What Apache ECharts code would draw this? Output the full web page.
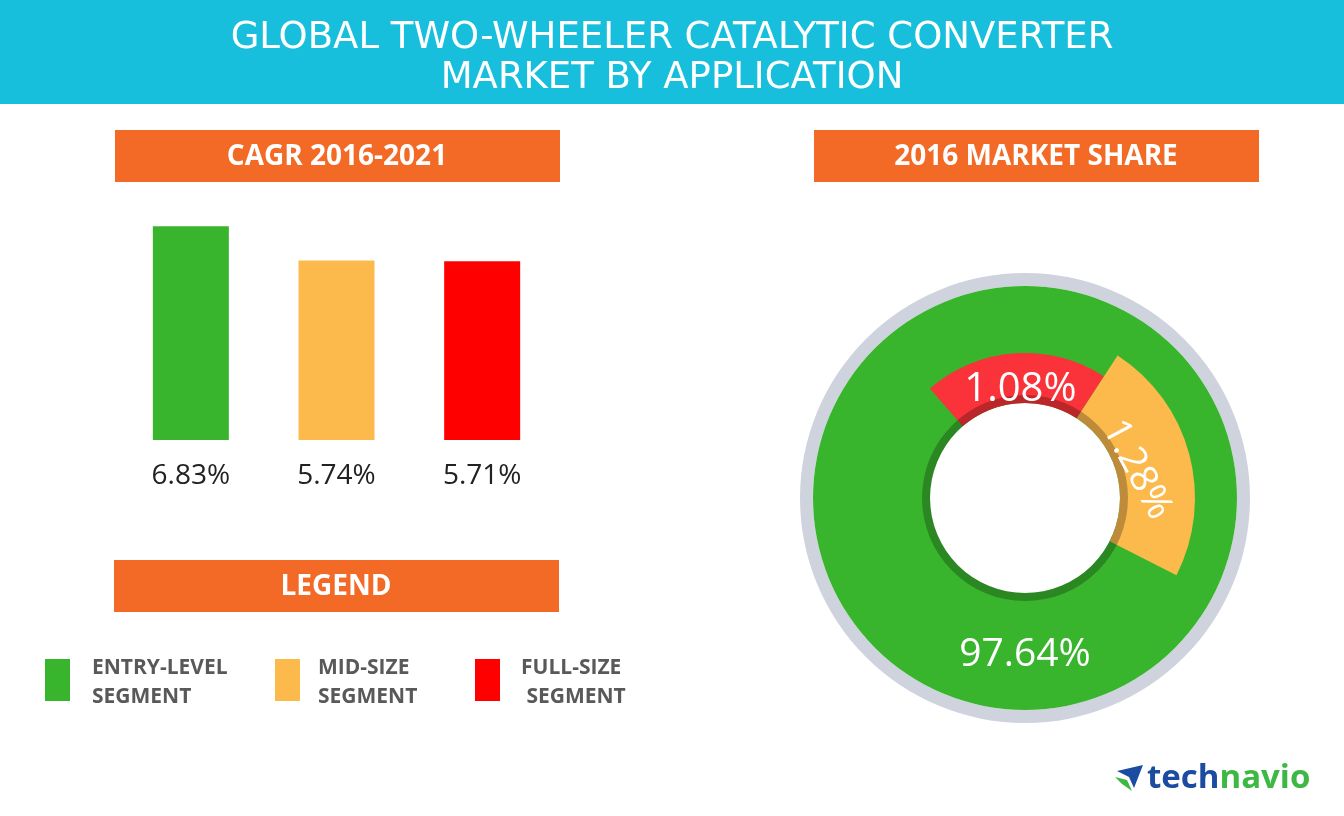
<!DOCTYPE html>
<html><head><meta charset="utf-8">
<script src="https://cdn.jsdelivr.net/npm/echarts@6/dist/echarts.min.js"></script>
<style>html,body{margin:0;padding:0;background:#fff}#c{width:1344px;height:816px}</style>
</head><body><div id="c"></div>
<script>
const titleLines = ['GLOBAL TWO-WHEELER CATALYTIC CONVERTER', 'MARKET BY APPLICATION'];
const panelTitles = ['CAGR 2016-2021', '2016 MARKET SHARE', 'LEGEND'];
const segments = ['Entry-level segment', 'Mid-size segment', 'Full-size segment'];
const legendLines = [['ENTRY-LEVEL', 'SEGMENT'], ['MID-SIZE', 'SEGMENT'], ['FULL-SIZE', ' SEGMENT']];
const cagrValues = [6.83, 5.74, 5.71];
const shareValues = [97.64, 1.28, 1.08];
// arc each slice is drawn with in the infographic (degrees)
const shareArcDegrees = [202, 84, 74];
const barColors = ['#39B52D', '#FDBA4C', '#FF0000'];
const donutColors = ['#39B52D', '#FDBA4C', '#F93339'];

const fmt = v => v.toFixed(2) + '%';
const C = [1025, 498];
const order = [2, 1, 0]; // clockwise from the top-left: full, mid, entry

function ring(radius, colorFn, labelFn, layout) {
  return {
    type: 'pie', silent: true, center: C, radius: radius, startAngle: 131, clockwise: true,
    avoidLabelOverlap: false, labelLine: { show: false }, animation: false,
    labelLayout: layout || {},
    data: order.map(i => ({
      name: segments[i], value: shareArcDegrees[i],
      itemStyle: { color: colorFn(i) },
      label: labelFn ? labelFn(i) : { show: false }
    }))
  };
}
function disk(radius, color) {
  return { type: 'pie', silent: true, center: C, radius: radius, animation: false,
    label: { show: false }, labelLine: { show: false },
    data: [{ name: 'all', value: shareValues.reduce((a, b) => a + b, 0), itemStyle: { color: color } }] };
}

const chart = echarts.init(document.getElementById('c'));
const graphic = [];
graphic.push({ type: 'rect', shape: { x: 0, y: 0, width: 1344, height: 104 }, style: { fill: '#17BFDD' } });
titleLines.forEach((t, i) => graphic.push({
  type: 'text', x: 672, y: 38 + i * 40,
  style: { text: t, fill: '#fff', font: '37px "DejaVu Sans"', textAlign: 'center', textVerticalAlign: 'middle' }
}));
const boxes = [[115, 130], [814, 130], [114, 560]];
boxes.forEach((b, i) => {
  graphic.push({ type: 'rect', shape: { x: b[0], y: b[1], width: 445, height: 52 }, style: { fill: '#F26A25' } });
  graphic.push({ type: 'text', x: b[0] + 222, y: b[1] + 27,
    style: { text: panelTitles[i], fill: '#fff', font: 'bold 28px "Open Sans"', textAlign: 'center', textVerticalAlign: 'middle' } });
});
const legX = [[45, 92], [275, 318], [475, 521]];
legendLines.forEach((ls, i) => {
  graphic.push({ type: 'rect', shape: { x: legX[i][0], y: 659, width: 25, height: 42 }, style: { fill: barColors[i] } });
  ls.forEach((l, j) => graphic.push({ type: 'text', x: legX[i][1], y: 668 + j * 29,
    style: { text: l, fill: '#595959', font: 'bold 21px "Open Sans"', textAlign: 'left', textVerticalAlign: 'middle' } }));
});
graphic.push({ type: 'text', x: C[0], y: 655, z: 100,
  style: { text: fmt(shareValues[0]), fill: '#fff', font: '39px "Open Sans"', textAlign: 'center', textVerticalAlign: 'middle' } });
// logo
graphic.push({ type: 'polygon', shape: { points: [[1117, 771], [1143, 765], [1134, 788], [1129, 777]] }, style: { fill: '#1B4CA1' } });
graphic.push({ type: 'polygon', shape: { points: [[1115, 777], [1127, 780], [1132, 791], [1122, 784]] }, style: { fill: '#3DB843' } });
graphic.push({ type: 'text', x: 1147, y: 779,
  style: { text: '{a|tech}{b|navio}', textVerticalAlign: 'middle', textAlign: 'left',
    rich: { a: { fill: '#1B4CA1', font: 'bold 33px "Open Sans"' }, b: { fill: '#3DB843', font: 'bold 33px "Open Sans"' } } } });

chart.setOption({
  backgroundColor: '#fff',
  animation: false,
  grid: { left: 118, width: 437, top: 221, height: 219 },
  xAxis: { type: 'category', data: segments, show: false },
  yAxis: { type: 'value', min: 0, max: 7, show: false },
  series: [
    {
      type: 'bar', barWidth: 76, silent: true,
      data: cagrValues.map((v, i) => ({ value: v, itemStyle: { color: barColors[i] } })),
      label: { show: true, position: 'bottom', distance: 22, formatter: p => fmt(cagrValues[p.dataIndex]),
        color: '#222', fontSize: 28, fontFamily: 'Open Sans' }
    },
    disk(['212', '225'], '#CFD3DD'),
    disk(['95', '212'], donutColors[0]),
    ring(['95', '145'], i => i === 2 ? donutColors[2] : 'rgba(0,0,0,0)',
      i => i === 2 ? { show: true, position: 'inside', formatter: fmt(shareValues[2]), color: '#fff', fontSize: 40, fontFamily: 'Open Sans' } : { show: false },
      { dy: 14, dx: 4 }),
    ring(['95', '170'], i => i === 1 ? donutColors[1] : 'rgba(0,0,0,0)',
      i => i === 1 ? { show: true, position: 'inside', rotate: -62, formatter: fmt(shareValues[1]), color: '#fff', fontSize: 38, fontFamily: 'Open Sans' } : { show: false },
      { dx: -3, dy: 20 }),
    disk(['95', '103'], 'rgba(0,0,0,0.25)')
  ],
  graphic: graphic
});
</script></body></html>
